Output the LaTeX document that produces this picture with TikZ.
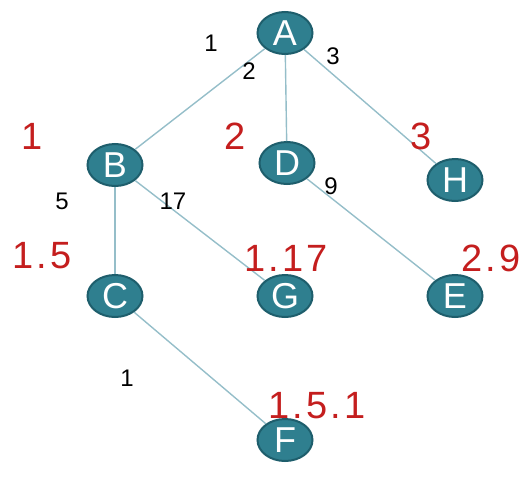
\documentclass[tikz,border=0pt]{standalone}
\usepackage{fontspec}
\setmainfont{Liberation Sans}
\usepackage{tikz}
\usetikzlibrary{shapes.geometric}
\definecolor{nodeteal}{HTML}{2F7F8F}
\definecolor{nodeedge}{HTML}{1E5E6C}
\definecolor{edgeblue}{HTML}{95BEC9}
\definecolor{pathred}{HTML}{C41E1E}

\tikzset{
  vertex/.style={ellipse,fill=nodeteal,draw=nodeedge,line width=2pt,minimum width=55pt,minimum height=42pt,inner sep=0pt,text=white,font=\fontsize{36}{36}\selectfont},
  link/.style={draw=edgeblue,line width=1.4pt},
  weight/.style={font=\fontsize{24}{24}\selectfont},
  route/.style={text=pathred,font=\fontsize{38}{38}\selectfont\addfontfeature{LetterSpace=8}}
}

\begin{document}
\begin{tikzpicture}[x=1pt,y=-1pt]
    \useasboundingbox (0,0) rectangle (531,493);
    % tree nodes
    \node[vertex] (A) at (285,33) {A};
    \node[vertex] (B) at (115,165) {B};
    \node[vertex] (D) at (287,163) {D};
    \node[vertex] (H) at (455,180) {H};
    \node[vertex] (C) at (115,296) {C};
    \node[vertex] (G) at (285,296) {G};
    \node[vertex] (E) at (455,296) {E};
    \node[vertex] (F) at (285,440) {F};
    % tree edges
    \draw[link] (A) -- (B);
    \draw[link] (A) -- (D);
    \draw[link] (A) -- (H);
    \draw[link] (B) -- (C);
    \draw[link] (B) -- (G);
    \draw[link] (D) -- (E);
    \draw[link] (C) -- (F);
    % edge weights
    \node[weight] (w1) at (211,43) {1};
    \node[weight] (w2) at (249,71) {2};
    \node[weight] (w3) at (333,56) {3};
    \node[weight] (w5) at (62,201) {5};
    \node[weight] (w17) at (173,201) {17};
    \node[weight] (w9) at (331,186) {9};
    \node[weight] (w1b) at (127,378) {1};
    % path labels
    \node[route] (pB) at (32,136) {1};
    \node[route] (pD) at (235,136) {2};
    \node[route] (pH) at (421,136) {3};
    \node[route] (pC) at (42,256) {1.5};
    \node[route] (pG) at (286,258) {1.17};
    \node[route] (pE) at (491,258) {2.9};
    \node[route] (pF) at (317,406) {1.5.1};
  \end{tikzpicture}
\end{document}
